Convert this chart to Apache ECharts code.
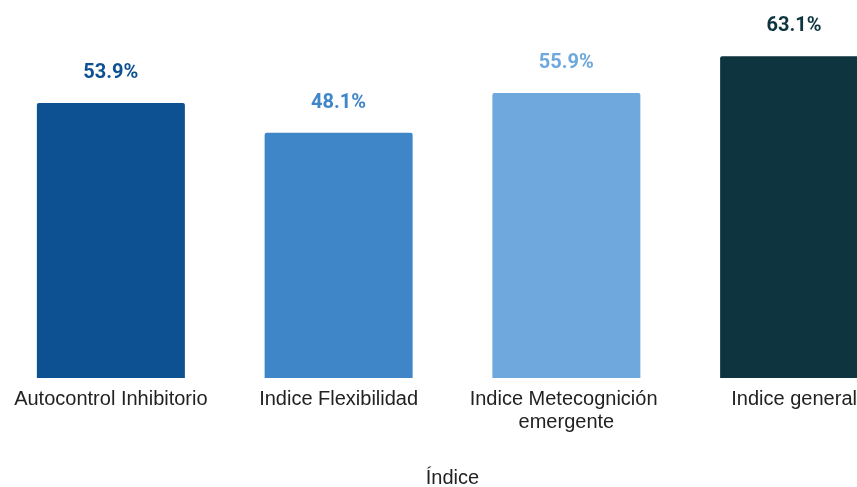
<!DOCTYPE html>
<html>
<head>
<meta charset="utf-8">
<script src="https://cdn.jsdelivr.net/npm/echarts@6/dist/echarts.min.js"></script>
<style>html,body{margin:0;padding:0;background:#fff;overflow:hidden}#c{width:857px;height:487px}</style>
</head>
<body>
<div id="c"></div>
<script>
const categories = ['Autocontrol Inhibitorio', 'Indice Flexibilidad', 'Indice Metecognición emergente', 'Indice general'];
const values = [53.9, 48.1, 55.9, 63.1];
const colors = ['#0e5192', '#3f86c8', '#6fa8dc', '#0e3440'];
const axisName = 'Índice';

const chart = echarts.init(document.getElementById('c'), null, {renderer: 'canvas'});
chart.setOption({
  animation: false,
  grid: {left: -3, right: -51, top: 21, bottom: 109, containLabel: false, outerBoundsMode: 'none'},
  xAxis: {
    type: 'category',
    data: categories,
    name: axisName,
    nameLocation: 'middle',
    nameGap: 90,
    nameTextStyle: {fontFamily: 'Liberation Sans', fontSize: 20, color: '#222'},
    axisLine: {show: false},
    axisTick: {show: false},
    axisLabel: {
      interval: 0, margin: 10, width: 215, overflow: 'break',
      fontFamily: 'Liberation Sans', fontSize: 20, color: '#222', lineHeight: 23
    }
  },
  yAxis: {type: 'value', min: 0, max: 70, show: false, splitLine: {show: false}},
  series: [{
    type: 'bar',
    barWidth: 148,
    data: values.map((v, i) => ({value: v, itemStyle: {color: colors[i], borderRadius: [2, 2, 0, 0]},
      label: {color: colors[i]}})),
    label: {
      show: true, position: 'top', distance: 20,
      fontFamily: 'Roboto', fontWeight: 'bold', fontSize: 20,
      formatter: p => p.value.toFixed(1) + '%'
    }
  }]
});
</script>
</body>
</html>
